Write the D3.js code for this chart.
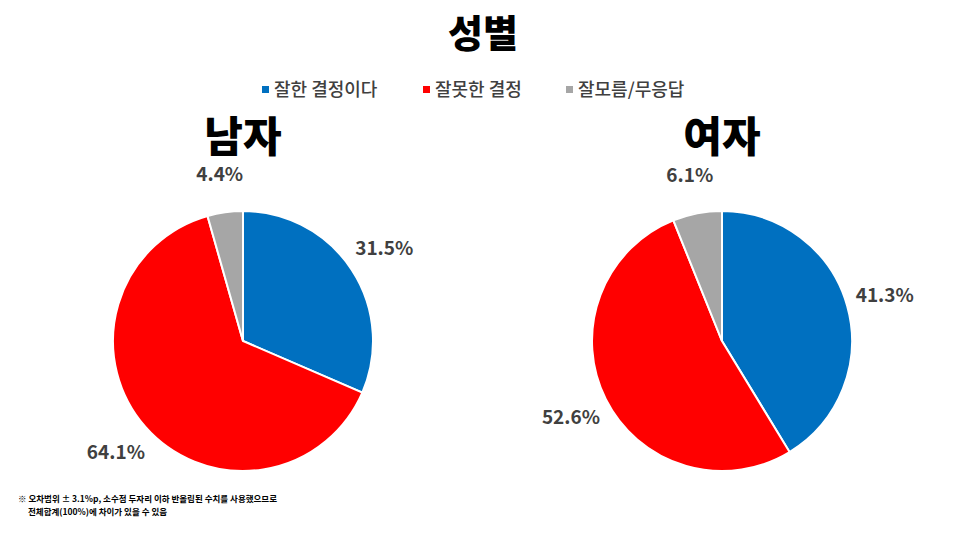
<!DOCTYPE html><html><head><meta charset="utf-8"><script src="https://cdn.jsdelivr.net/npm/d3@7"></script>
<style>body{margin:0;background:#fff}</style></head><body><svg id="c" width="966" height="537"></svg>
<script>
const categories=["잘한 결정이다","잘못한 결정","잘모름/무응답"];
const colors=["#0070c0","#ff0000","#a6a6a6"];
const groups=["남자","여자"];
const men=[31.5,64.1,4.4];
const women=[41.3,52.6,6.1];
const svg=d3.select("#c");
const F="'Noto Sans CJK KR',sans-serif";
svg.append("text").attr("x",483).attr("y",47).attr("text-anchor","middle").attr("font-family",F).attr("font-weight",900).attr("font-size",38).text("성별");
const lg=[[262,"잘한 결정이다"],[423,"잘못한 결정"],[566,"잘모름/무응답"]];
lg.forEach((d,i)=>{svg.append("rect").attr("x",d[0]).attr("y",86).attr("width",7).attr("height",7).attr("fill",colors[i]);
svg.append("text").attr("x",d[0]+12).attr("y",96).attr("font-family",F).attr("font-weight",500).attr("font-size",18).attr("fill","#404040").text(categories[i]);});
const pie=d3.pie().sort(null);
const r=130;
[[243,men],[722,women]].forEach(([cx,vals],gi)=>{
  svg.append("text").attr("x",cx).attr("y",152).attr("text-anchor","middle").attr("font-family",F).attr("font-weight",900).attr("font-size",42).text(groups[gi]);
  const g=svg.append("g").attr("transform",`translate(${cx},341)`);
  const arcs=pie(vals);
  g.selectAll("path").data(arcs).join("path").attr("d",d3.arc().innerRadius(0).outerRadius(r)).attr("fill",(d,i)=>colors[i]).attr("stroke","#fff").attr("stroke-width",2);
  const la=d3.arc().innerRadius(r*1.3).outerRadius(r*1.3);
  g.selectAll("text").data(arcs).join("text").attr("transform",d=>{const c=la.centroid(d);return `translate(${c[0]},${c[1]+7})`})
   .attr("text-anchor","middle").attr("font-family",F).attr("font-weight",700).attr("font-size",19).attr("fill","#404040").text(d=>d.data.toFixed(1)+"%");
});
svg.append("text").attr("x",18).attr("y",502).attr("font-family",F).attr("font-weight",700).attr("font-size",8.5).text("※ 오차범위 ± 3.1%p, 소수점 두자리 이하 반올림된 수치를 사용했으므로");
svg.append("text").attr("x",28).attr("y",515).attr("font-family",F).attr("font-weight",700).attr("font-size",8.5).text("전체합계(100%)에 차이가 있을 수 있음");
</script></body></html>
